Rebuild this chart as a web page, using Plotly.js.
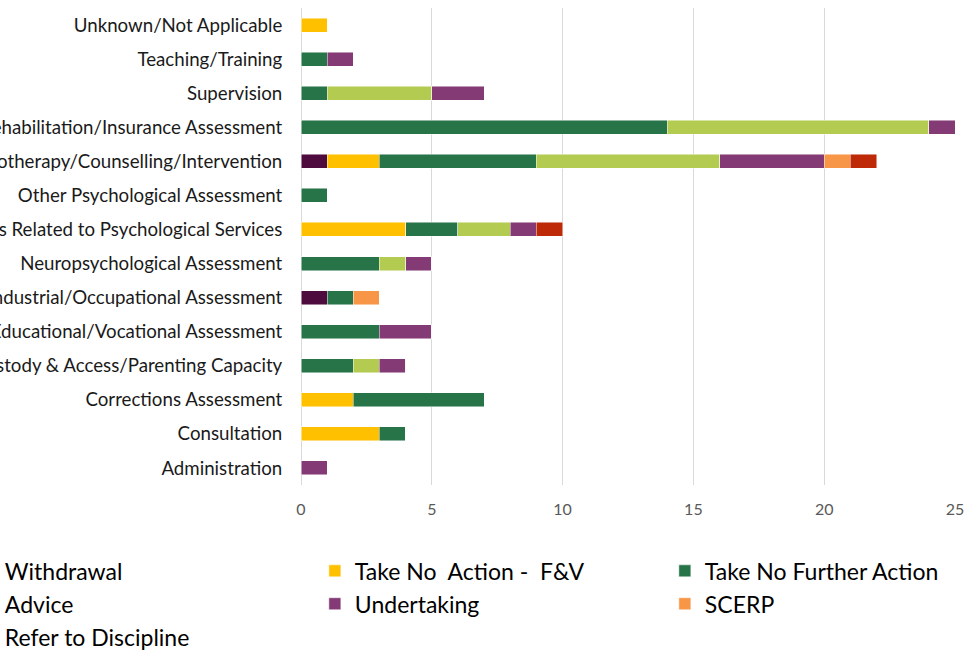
<!DOCTYPE html>
<html>
<head>
<meta charset="utf-8">
<script src="https://cdn.plot.ly/plotly-3.0.1.min.js"></script>
<style>
html,body{margin:0;padding:0;overflow:hidden;width:966px;height:654px;background:#fff;}
#chart{position:absolute;left:-150px;top:0;width:1250px;height:700px;}
</style>
</head>
<body>
<div id="chart"></div>
<script>
// Categories, bottom to top
const categories = [
  "Administration",
  "Consultation",
  "Corrections Assessment",
  "Custody & Access/Parenting Capacity",
  "Educational/Vocational Assessment",
  "Industrial/Occupational Assessment",
  "Neuropsychological Assessment",
  "Matters Related to Psychological Services",
  "Other Psychological Assessment",
  "Psychotherapy/Counselling/Intervention",
  "Rehabilitation/Insurance Assessment",
  "Supervision",
  "Teaching/Training",
  "Unknown/Not Applicable"
];

const seriesNames = ["Withdrawal", "Take No  Action -  F&V", "Take No Further Action", "Advice", "Undertaking", "SCERP", "Refer to Discipline"];
const seriesColors = ["#4E0B3E", "#FFC000", "#277449", "#B3CB50", "#843A74", "#F79646", "#BE2A08"];

const withdrawal        = [0,0,0,0,0,1,0,0,0,1,0,0,0,0];
const takeNoActionFV    = [0,3,2,0,0,0,0,4,0,2,0,0,0,1];
const takeNoFurther     = [0,1,5,2,3,1,3,2,1,6,14,1,1,0];
const advice            = [0,0,0,1,0,0,1,2,0,7,10,4,0,0];
const undertaking       = [1,0,0,1,2,0,1,1,0,4,1,2,1,0];
const scerp             = [0,0,0,0,0,1,0,0,0,1,0,0,0,0];
const referDiscipline   = [0,0,0,0,0,0,0,1,0,1,0,0,0,0];

const xTicks = [0,5,10,15,20,25];

const seriesValues = [withdrawal, takeNoActionFV, takeNoFurther, advice, undertaking, scerp, referDiscipline];

const traces = seriesValues.map((vals, i) => ({
  type: "bar",
  orientation: "h",
  name: seriesNames[i],
  y: categories,
  x: vals,
  marker: {color: seriesColors[i], line: {color: "rgba(255,255,255,0.6)", width: 0.8}},
  hoverinfo: "x+name"
}));

const layout = {
  barmode: "stack",
  bargap: 0.59,
  margin: {l: 451, r: 145, t: 8, b: 215},
  paper_bgcolor: "#fff",
  plot_bgcolor: "#fff",
  font: {family: "Lato, 'Open Sans', sans-serif", color: "#000"},
  xaxis: {
    range: [0, 25],
    tickvals: xTicks,
    showgrid: true,
    gridcolor: "#D9D9D9",
    gridwidth: 1,
    zeroline: true,
    zerolinecolor: "#D9D9D9",
    zerolinewidth: 1,
    showline: false,
    ticks: "outside",
    ticklen: 10,
    tickcolor: "rgba(0,0,0,0)",
    tickfont: {size: 16, color: "#595959"},
    fixedrange: true
  },
  yaxis: {
    type: "category",
    categoryorder: "array",
    categoryarray: categories,
    showgrid: false,
    zeroline: false,
    showline: false,
    ticks: "outside",
    ticklen: 14,
    tickcolor: "rgba(0,0,0,0)",
    tickfont: {size: 18.7, color: "#1a1a1a"},
    fixedrange: true
  },
  legend: {
    orientation: "h",
    x: -0.514,
    xanchor: "left",
    y: -0.135,
    yanchor: "top",
    traceorder: "normal",
    entrywidth: 305,
    entrywidthmode: "pixels",
    font: {size: 23, color: "#000"},
    bgcolor: "rgba(0,0,0,0)"
  },
  showlegend: true
};

Plotly.newPlot("chart", traces, layout, {displayModeBar: false, staticPlot: true});
</script>
</body>
</html>
